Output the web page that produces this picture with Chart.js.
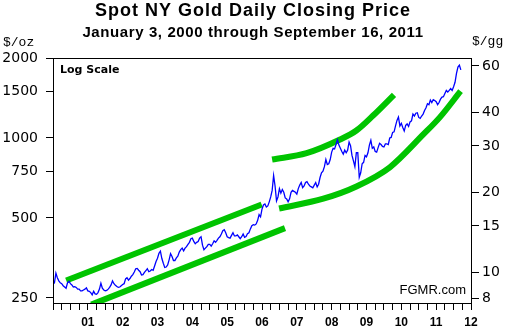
<!DOCTYPE html>
<html>
<head>
<meta charset="utf-8">
<script src="https://cdn.jsdelivr.net/npm/chart.js@4.4.1/dist/chart.umd.min.js"></script>
<style>
  html, body { margin: 0; padding: 0; background: #fff; }
  #goldChart { display: block; }
</style>
</head>
<body>
<canvas id="goldChart" width="507" height="330"></canvas>
<script>
// Spot gold, two closes per month ($/oz)
const gold2000 = [288, 285, 310, 298, 290, 285, 283, 278, 275, 272, 285, 289, 283, 280, 275, 276, 274, 270, 270, 266, 266, 268, 270, 273];
const gold2001 = [266, 265, 262, 257, 265, 259, 258, 262, 270, 284, 272, 268, 266, 267, 270, 274, 280, 290, 283, 279, 276, 274, 275, 278];
const gold2002 = [281, 283, 295, 298, 292, 296, 302, 306, 313, 322, 323, 318, 314, 305, 306, 312, 317, 322, 314, 316, 320, 318, 330, 343];
const gold2003 = [353, 368, 375, 352, 338, 326, 327, 333, 348, 367, 358, 346, 346, 354, 359, 372, 380, 385, 376, 385, 390, 398, 405, 418];
const gold2004 = [420, 408, 400, 405, 408, 420, 425, 395, 380, 385, 390, 398, 398, 392, 400, 410, 405, 412, 420, 425, 435, 448, 452, 440];
const gold2005 = [425, 422, 420, 430, 440, 428, 428, 432, 425, 418, 425, 435, 423, 426, 436, 440, 455, 468, 472, 470, 475, 490, 515, 505];
const gold2006 = [540, 560, 565, 550, 555, 575, 600, 635, 722, 660, 580, 600, 645, 620, 640, 625, 595, 590, 575, 590, 625, 635, 630, 625];
const gold2007 = [615, 645, 665, 680, 650, 660, 680, 685, 670, 660, 655, 650, 665, 680, 655, 670, 710, 740, 750, 780, 830, 795, 800, 830];
const gold2008 = [885, 915, 910, 945, 985, 940, 915, 890, 870, 900, 880, 900, 965, 935, 860, 820, 780, 880, 880, 712, 740, 800, 810, 860];
const gold2009 = [850, 880, 940, 980, 915, 925, 890, 885, 920, 955, 945, 930, 925, 950, 950, 945, 1000, 1005, 1050, 1055, 1110, 1165, 1200, 1110];
const gold2010 = [1135, 1095, 1062, 1115, 1130, 1105, 1150, 1160, 1230, 1210, 1240, 1245, 1195, 1185, 1210, 1230, 1270, 1300, 1345, 1335, 1390, 1360, 1395, 1385];
const gold2011 = [1370, 1335, 1360, 1400, 1425, 1430, 1470, 1510, 1490, 1510, 1535, 1510, 1560, 1620, 1750, 1850, 1880, 1805];

const goldClose = [].concat(gold2000, gold2001, gold2002, gold2003, gold2004, gold2005,
  gold2006, gold2007, gold2008, gold2009, gold2010, gold2011);
const firstYear = 2000;
const samplesPerYear = 24;

// green trend lines (year, $/oz)
const channelTopYears = [2000.38, 2005.99];
const channelTopPrices = [291, 562];
const channelBottomYears = [2001.10, 2006.66];
const channelBottomPrices = [236, 458];
const curveTopYears = [2006.29, 2007.28, 2008.24, 2008.71, 2009.19, 2009.79];
const curveTopPrices = [830, 877, 987, 1067, 1215, 1454];
const curveBottomYears = [2006.49, 2007.76, 2008.71, 2009.67, 2010.63, 2011.11, 2011.70];
const curveBottomPrices = [543, 591, 657, 776, 1031, 1198, 1500];

// axes
const ozTicks = [250, 500, 750, 1000, 1500, 2000];
const gramTicks = [8, 10, 15, 20, 30, 40, 60];
const gramsPerOz = 31.1035;
const priceMin = 239.4;
const priceMax = 2000;

const goldPoints = goldClose.map((v, i) => ({ x: firstYear + i / samplesPerYear, y: v }));

function toPoints(years, prices) {
  return years.map((x, i) => ({ x: x, y: prices[i] }));
}

const trendGreen = '#00c400';

function trendSet(years, prices, curved) {
  return {
    data: toPoints(years, prices),
    borderColor: trendGreen,
    borderWidth: 6,
    borderCapStyle: 'butt',
    pointRadius: 0,
    cubicInterpolationMode: curved ? 'monotone' : 'default',
    yAxisID: 'y'
  };
}

// title, units, frame
const chartText = {
  id: 'chartText',
  afterDraw(chart) {
    const ctx = chart.ctx;
    const a = chart.chartArea;
    ctx.save();
    ctx.strokeStyle = '#000';
    ctx.lineWidth = 1;
    ctx.strokeRect(a.left + 0.5, a.top + 0.5, a.right - a.left, a.bottom - a.top);

    ctx.fillStyle = '#000';
    ctx.textBaseline = 'alphabetic';
    ctx.textAlign = 'center';
    ctx.letterSpacing = '1px';
    ctx.font = 'bold 18px "Liberation Sans", Arial';
    ctx.fillText('Spot NY Gold Daily Closing Price', 253, 16);
    ctx.letterSpacing = '0.6px';
    ctx.font = 'bold 15px "Liberation Sans", Arial';
    ctx.fillText('January 3, 2000 through September 16, 2011', 253, 37);
    ctx.letterSpacing = '0px';

    ctx.textAlign = 'left';
    ctx.font = '13px "Liberation Mono", monospace';
    ctx.fillText('$/oz', 3, 46);
    ctx.fillText('$/gg', 472, 45);

    ctx.font = 'bold 11px "DejaVu Sans"';
    ctx.fillText('Log Scale', 60, 73);

    ctx.textAlign = 'right';
    ctx.font = '13px "Liberation Sans", Arial';
    ctx.fillText('FGMR.com', 466, 294);
    ctx.restore();
  }
};

const ctx = document.getElementById('goldChart').getContext('2d');
new Chart(ctx, {
  type: 'line',
  data: {
    datasets: [
      {
        data: goldPoints,
        borderColor: '#0000ff',
        borderWidth: 1.3,
        pointRadius: 0,
        tension: 0,
        yAxisID: 'y'
      },
      trendSet(channelTopYears, channelTopPrices, false),
      trendSet(channelBottomYears, channelBottomPrices, false),
      trendSet(curveTopYears, curveTopPrices, true),
      trendSet(curveBottomYears, curveBottomPrices, true)
    ]
  },
  options: {
    responsive: false,
    animation: false,
    layout: { padding: { top: 58, left: 0, right: 0, bottom: 0 } },
    plugins: {
      legend: { display: false },
      tooltip: { enabled: false }
    },
    scales: {
      x: {
        type: 'linear',
        min: 2000,
        max: 2012,
        border: { display: false },
        grid: { drawOnChartArea: false, tickLength: 7, color: '#000' },
        ticks: {
          stepSize: 0.25,
          autoSkip: false,
          maxRotation: 0,
          padding: 5,
          color: '#000',
          font: { family: '"Liberation Sans", Arial', size: 12, weight: 'bold' },
          callback: v => (Number.isInteger(v) && v > 2000) ? String(v).slice(2) : ''
        },
        afterFit: s => { s.height = 27; }
      },
      y: {
        type: 'logarithmic',
        position: 'left',
        min: priceMin,
        max: priceMax,
        border: { display: false },
        grid: { drawOnChartArea: false, tickLength: 7, color: '#000' },
        ticks: {
          padding: 8,
          color: '#000',
          font: { family: '"DejaVu Sans"', size: 14 },
          callback: v => String(v)
        },
        afterBuildTicks: s => { s.ticks = ozTicks.map(v => ({ value: v })); },
        afterFit: s => { s.width = 53; }
      },
      yg: {
        type: 'logarithmic',
        position: 'right',
        min: priceMin / gramsPerOz,
        max: priceMax / gramsPerOz,
        border: { display: false },
        grid: { drawOnChartArea: false, tickLength: 8, color: '#000' },
        ticks: {
          padding: 3,
          color: '#000',
          font: { family: '"DejaVu Sans"', size: 14 },
          callback: v => String(v)
        },
        afterBuildTicks: s => { s.ticks = gramTicks.map(v => ({ value: v })); },
        afterFit: s => { s.width = 36; }
      }
    }
  },
  plugins: [chartText]
});
</script>
</body>
</html>
